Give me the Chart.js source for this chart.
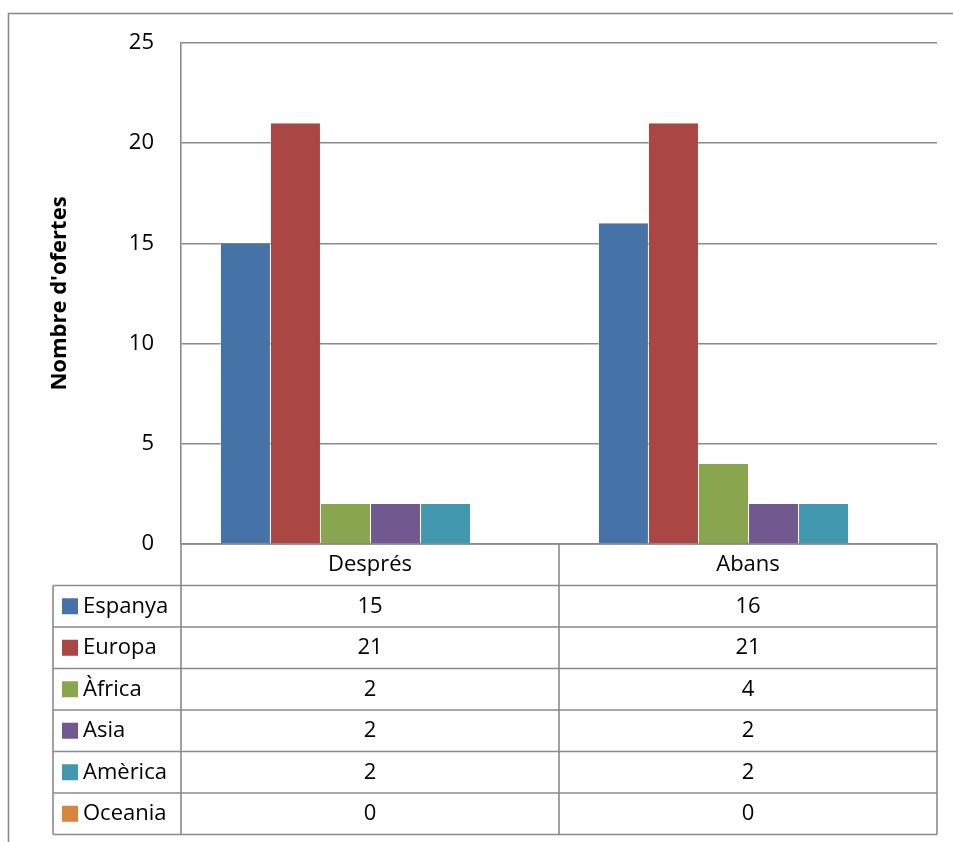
<!DOCTYPE html>
<html>
<head>
<meta charset="utf-8">
<script src="https://cdn.jsdelivr.net/npm/chart.js"></script>
<style>
  html, body { margin: 0; padding: 0; background: #fff; }
  #wrap { width: 953px; height: 842px; }
</style>
</head>
<body>
<div id="wrap"><canvas id="chart" width="953" height="842"></canvas></div>
<script>
const categories = ["Després", "Abans"];
const seriesNames = ["Espanya", "Europa", "Àfrica", "Asia", "Amèrica", "Oceania"];
const espanya = [15, 16];
const europa = [21, 21];
const africa = [2, 4];
const asia = [2, 2];
const america = [2, 2];
const oceania = [0, 0];
const colors = ["#4572A7", "#AA4643", "#89A54E", "#71588F", "#4198AF", "#DB843D"];

const seriesValues = [espanya, europa, africa, asia, america, oceania];
const FONT = "'Open Sans', sans-serif";
const LINE = "#8a8a8a";

// data table under the plot, columns follow the category scale
const dataTable = {
  id: "dataTable",
  afterDraw(chart) {
    const { ctx, chartArea, scales } = chart;
    const x = scales.x;
    const left = chartArea.left;
    const right = chartArea.right;
    const mid = (x.getPixelForValue(0) + x.getPixelForValue(1)) / 2;
    const top = chartArea.bottom;
    const rowH = 41.5;
    const keyLeft = 53;
    const rows = seriesNames.length;
    const bottom = top + rowH * (rows + 1);

    ctx.save();
    ctx.strokeStyle = LINE;
    ctx.lineWidth = 1.6;

    // outer chart frame (right and bottom edges run off the canvas)
    ctx.strokeRect(8.5, 13.5, 950, 860);

    ctx.beginPath();
    ctx.moveTo(left, top);
    ctx.lineTo(right, top);
    for (let r = 1; r <= rows + 1; r++) {
      const y = top + rowH * r;
      ctx.moveTo(keyLeft, y);
      ctx.lineTo(right, y);
    }
    ctx.moveTo(left, top);
    ctx.lineTo(left, bottom);
    ctx.moveTo(mid, top);
    ctx.lineTo(mid, bottom);
    ctx.moveTo(right, top);
    ctx.lineTo(right, bottom);
    ctx.moveTo(keyLeft, top + rowH);
    ctx.lineTo(keyLeft, bottom);
    ctx.stroke();

    ctx.fillStyle = "#000";
    ctx.font = "22px " + FONT;
    ctx.textBaseline = "middle";
    ctx.textAlign = "center";
    const cols = [(left + mid) / 2, (mid + right) / 2];
    categories.forEach((c, i) => ctx.fillText(c, cols[i], top + rowH / 2));

    seriesNames.forEach((name, r) => {
      const cy = top + rowH * (r + 1.5);
      ctx.fillStyle = colors[r];
      ctx.fillRect(62, cy - 8, 16, 16);
      ctx.fillStyle = "#000";
      ctx.textAlign = "left";
      ctx.fillText(name, 83, cy);
      ctx.textAlign = "center";
      seriesValues[r].forEach((v, i) => ctx.fillText(String(v), cols[i], cy));
    });
    ctx.restore();
  },
};

new Chart(document.getElementById("chart"), {
  type: "bar",
  data: {
    labels: categories,
    datasets: seriesNames.map((name, i) => ({
      label: name,
      data: seriesValues[i],
      backgroundColor: colors[i],
      borderColor: "rgba(255,255,255,0.35)",
      borderWidth: { top: 0, left: 1, right: 0, bottom: 0 },
      categoryPercentage: 0.794,
      barPercentage: 1,
    })),
  },
  options: {
    responsive: false,
    animation: false,
    layout: {
      padding: { left: 0, top: 43, right: 16, bottom: 298 },
    },
    plugins: {
      legend: { display: false },
      tooltip: { enabled: false },
    },
    scales: {
      x: {
        display: false,
      },
      y: {
        min: 0,
        max: 25,
        afterFit: (scale) => {
          scale.width = 181;
        },
        ticks: {
          stepSize: 5,
          padding: 27,
          color: "#000",
          font: { family: FONT, size: 22 },
        },
        grid: {
          color: LINE,
          lineWidth: 1.6,
          drawTicks: false,
        },
        border: { color: LINE, width: 1.6 },
        title: {
          display: true,
          text: "Nombre d'ofertes",
          color: "#000",
          font: { family: FONT, size: 22, weight: "bold" },
          padding: { top: 47, bottom: 0 },
        },
      },
    },
  },
  plugins: [dataTable],
});
</script>
</body>
</html>
